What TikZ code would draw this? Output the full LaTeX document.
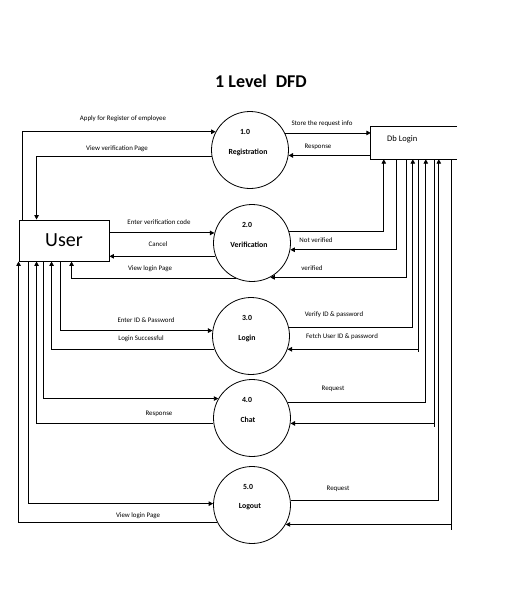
\documentclass[tikz,border=0pt]{standalone}
\usepackage{fontspec}
\setmainfont{Carlito}
\usetikzlibrary{arrows.meta,calc}
\begin{document}
\begin{tikzpicture}[x=1pt,y=-1pt,
  line/.style={line width=0.9pt},
  arr/.style={line width=0.9pt,-{Triangle[length=4.5pt,width=4.5pt]}},
  proc/.style={circle,draw,line width=0.8pt,minimum size=77pt,inner sep=0pt},
  lbl/.style={font=\fontsize{6.9}{8}\selectfont,inner sep=0pt},
  pnum/.style={font=\bfseries\fontsize{7.8}{9}\selectfont,inner sep=0pt},
  pname/.style={font=\bfseries\fontsize{7.8}{9}\selectfont,inner sep=0pt}]
\useasboundingbox (0,0) rectangle (505,595);

\node[font=\bfseries\fontsize{18}{22}\selectfont,inner sep=0pt] (title) at (261,81) {1 Level\hspace{0.5em}DFD};

% Db Login store
\node[minimum width=86pt,minimum height=32pt,inner sep=0pt] (db) at (414,143) {};
\draw[line] (db.north east) -- (db.north west) -- (db.south west) -- (db.south east);
\node[anchor=west,inner sep=0pt,font=\fontsize{8.5}{10}\selectfont] (dbl) at (387,139) {Db Login};

% User
\node[draw,line width=0.9pt,minimum width=90pt,minimum height=41pt,inner sep=0pt,
      font=\fontsize{20}{24}\selectfont] (user) at (64,240.5) {User};

% processes
\node[proc] (p1) at (250,150) {};
\node[proc] (p2) at (252,243) {};
\node[proc] (p3) at (251,336) {};
\node[proc] (p4) at (252,418) {};
\node[proc] (p5) at (252,505) {};
\node[pnum] (n1) at ($(p1)+(-5,-18)$) {1.0};
\node[pname] (t1) at ($(p1)+(-2,2)$) {Registration};
\node[pnum] (n2) at ($(p2)+(-5,-18)$) {2.0};
\node[pname] (t2) at ($(p2)+(-3,2)$) {Verification};
\node[pnum] (n3) at ($(p3)+(-4,-18)$) {3.0};
\node[pname] (t3) at ($(p3)+(-4,2)$) {Login};
\node[pnum] (n4) at ($(p4)+(-5,-18)$) {4.0};
\node[pname] (t4) at ($(p4)+(-4,1.5)$) {Chat};
\node[pnum] (n5) at ($(p5)+(-4,-18)$) {5.0};
\node[pname] (t5) at ($(p5)+(-2,2)$) {Logout};

% lanes
\foreach \n/\o in {1/13,2/26,3/36,4/42,5/48,6/55,7/64,8/68,9/81}
  \coordinate (d\n) at ($(db.south west)+(\o,0)$);
\foreach \n/\o in {1/0,2/10,3/18,4/25,5/33,6/42,7/53}
  \coordinate (ub\n) at ($(user.south west)+(\o,0)$);
\coordinate (ut1) at ($(user.north west)+(4,0)$);
\coordinate (ut2) at ($(user.north west)+(18,0)$);

% Registration
\draw[arr] (ut1) |- (p1.152);
\draw[arr] (p1.190) -| (ut2);
\draw[arr] (p1.26) -- (p1.26 -| db.west);
\draw[arr] (p1.-8 -| db.west) -- (p1.-8);

% Verification
\draw[arr] (p2.165 -| user.east) -- (p2.165);
\draw[arr] (p2.200) -- (p2.200 -| user.east);
\draw[arr] (p2.245) -| (ub7);
\draw[arr] (p2.18) -| (d1);
\draw[arr] (d2) |- (p2.-10);
\draw[arr] (d3) |- (p2.-62);

% Login
\draw[arr] (ub6) |- (p3.172);
\draw[arr] (p3.200) -| (ub5);
\draw[arr] (p3.12) -| (d4);
\draw[arr] (d5) |- (p3.-20);
\draw[line] (p3.-20 -| d5) -- ++(0,3);

% Chat
\draw[arr] (ub4) |- (p4.150);
\draw[arr] (p4.188) -| (ub3);
\draw[arr] (p4.23) -| (d6);
\draw[arr] (d7) |- (p4.-8);
\draw[line] (p4.-8 -| d7) -- ++(0,4);

% Logout
\draw[arr] (ub2) |- (p5.178);
\draw[arr] (p5.206) -| (ub1);
\draw[arr] (p5.7) -| (d8);
\draw[arr] (d9) |- (p5.-30);
\draw[line] (p5.-30 -| d9) -- ++(0,6);

% labels
\node[lbl] (l1) at (123,119) {Apply for Register of employee};
\node[lbl] (l2) at (117,149) {View verification Page};
\node[lbl] (l3) at (322,124) {Store the request info};
\node[lbl] (l4) at (318,147) {Response};
\node[lbl] (l5) at (159,222) {Enter verification code};
\node[lbl] (l6) at (158,244) {Cancel};
\node[lbl] (l7) at (150,269) {View login Page};
\node[lbl] (l8) at (316,240) {Not verified};
\node[lbl] (l9) at (312,268) {verified};
\node[lbl] (l10) at (146,320) {Enter ID \& Password};
\node[lbl] (l11) at (141,339) {Login Successful};
\node[lbl] (l12) at (334,315) {Verify ID \& password};
\node[lbl] (l13) at (342,337) {Fetch User ID \& password};
\node[lbl] (l14) at (159,414) {Response};
\node[lbl] (l15) at (333,389) {Request};
\node[lbl] (l16) at (338,489) {Request};
\node[lbl] (l17) at (138,516) {View login Page};
\end{tikzpicture}
\end{document}
